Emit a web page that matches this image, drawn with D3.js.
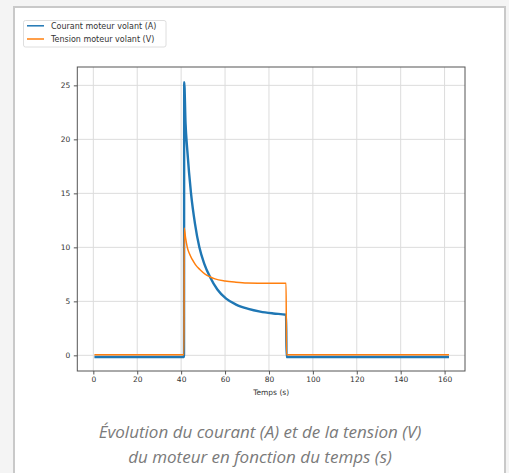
<!DOCTYPE html>
<html>
<head>
<meta charset="utf-8">
<script src="https://cdn.jsdelivr.net/npm/d3@7"></script>
<style>
  html, body { margin: 0; padding: 0; background: #f4f4f4; }
  svg { display: block; }
</style>
</head>
<body>
<svg id="chart" width="509" height="473"></svg>
<script>
// --- Données
const currentTime = [0.5, 41.3, 41.4, 42.0, 42.8, 44.5, 46.3, 48.3, 50.5, 53.1, 56.5, 60.5, 65, 70.6, 76, 82, 87.8, 88.0, 162];
const currentVals = [-0.15, -0.15, 25.3, 21.5, 19.0, 15.0, 12.2, 10.0, 8.5, 7.28, 6.1, 5.25, 4.7, 4.3, 4.05, 3.88, 3.76, -0.15, -0.15];

const voltageTime = [0.5, 41.3, 41.4, 42.0, 42.8, 43.8, 45, 46.5, 48.5, 50.9, 53.1, 55.4, 60, 65, 70, 80, 87.8, 88.0, 162];
const voltageVals = [0.05, 0.05, 11.8, 10.9, 10.0, 9.4, 8.9, 8.4, 7.95, 7.53, 7.28, 7.08, 6.88, 6.77, 6.7, 6.67, 6.67, 0.05, 0.05];

const xTicks = [0, 20, 40, 60, 80, 100, 120, 140, 160];
const yTicks = [0, 5, 10, 15, 20, 25];
const seriesNames = ['Courant moteur volant (A)', 'Tension moteur volant (V)'];
const seriesColors = ['#1f77b4', '#ff7f0e'];
const captionLines = ['Évolution du courant (A) et de la tension (V)', 'du moteur en fonction du temps (s)'];

const svg = d3.select('#chart');
const font = 'DejaVu Sans, sans-serif';

// --- Carte
svg.append('rect').attr('x', 14).attr('y', 7).attr('width', 491).attr('height', 480)
  .attr('fill', '#fff').attr('stroke', '#c9c9c9').attr('stroke-width', 2);

// --- Zone de tracé
const m = { l: 77.3, r: 465, t: 67, b: 371 };
const x = d3.scaleLinear().domain([-7.3, 169.3]).range([m.l, m.r]);
const y = d3.scaleLinear().domain([-1.45, 26.7]).range([m.b, m.t]);

const grid = svg.append('g');
grid.selectAll('line.vx').data(xTicks).join('line')
  .attr('x1', d => x(d)).attr('x2', d => x(d)).attr('y1', m.t).attr('y2', m.b)
  .attr('stroke', '#dcdcdc').attr('stroke-width', 1);
grid.selectAll('line.hy').data(yTicks).join('line')
  .attr('y1', d => y(d)).attr('y2', d => y(d)).attr('x1', m.l).attr('x2', m.r)
  .attr('stroke', '#dcdcdc').attr('stroke-width', 1);

// --- Courbes
const line = d3.line().x(d => x(d[0])).y(d => y(d[1])).curve(d3.curveMonotoneX);
const curData = currentTime.map((t, i) => [t, currentVals[i]]);
const volData = voltageTime.map((t, i) => [t, voltageVals[i]]);

svg.append('path').datum(curData).attr('d', line)
  .attr('fill', 'none').attr('stroke', seriesColors[0]).attr('stroke-width', 2.4)
  .attr('stroke-linejoin', 'round');
svg.append('path').datum(volData).attr('d', line)
  .attr('fill', 'none').attr('stroke', seriesColors[1]).attr('stroke-width', 1.5)
  .attr('stroke-linejoin', 'round');

// --- Cadre
svg.append('rect').attr('x', m.l).attr('y', m.t).attr('width', m.r - m.l).attr('height', m.b - m.t)
  .attr('fill', 'none').attr('stroke', '#555').attr('stroke-width', 1);

// --- Axes
const ax = svg.append('g').attr('transform', `translate(0,${m.b})`)
  .call(d3.axisBottom(x).tickValues(xTicks).tickSize(3.5).tickPadding(2.5));
const ay = svg.append('g').attr('transform', `translate(${m.l},0)`)
  .call(d3.axisLeft(y).tickValues(yTicks).tickSize(3.5).tickPadding(3.5));
[ax, ay].forEach(g => {
  g.select('.domain').remove();
  g.selectAll('line').attr('stroke', '#555');
  g.selectAll('text').attr('fill', '#333').style('font-family', font).style('font-size', '7.5px');
});

svg.append('text').attr('x', (m.l + m.r) / 2).attr('y', 395)
  .attr('text-anchor', 'middle').attr('fill', '#333')
  .style('font-family', font).style('font-size', '7.5px').text('Temps (s)');

// --- Légende
const lg = svg.append('g');
lg.append('rect').attr('x', 23.5).attr('y', 20.5).attr('width', 142.5).attr('height', 26.5)
  .attr('rx', 2).attr('fill', '#fff').attr('stroke', '#dedede').attr('stroke-width', 1);
seriesNames.forEach((name, i) => {
  const yy = 25.8 + i * 13.2;
  lg.append('line').attr('x1', 27).attr('x2', 44).attr('y1', yy).attr('y2', yy)
    .attr('stroke', seriesColors[i]).attr('stroke-width', 1.5);
  lg.append('text').attr('x', 51).attr('y', yy + 2.8).attr('fill', '#333')
    .style('font-family', font).style('font-size', '8px').text(name);
});

// --- Légende de figure
svg.selectAll('text.caption').data(captionLines).join('text')
  .attr('class', 'caption')
  .attr('x', 260).attr('y', (d, i) => 438 + i * 25)
  .attr('text-anchor', 'middle').attr('fill', '#7a7a7a')
  .style('font-family', 'Open Sans, sans-serif').style('font-style', 'italic').style('font-size', '17px')
  .text(d => d);
</script>
</body>
</html>
